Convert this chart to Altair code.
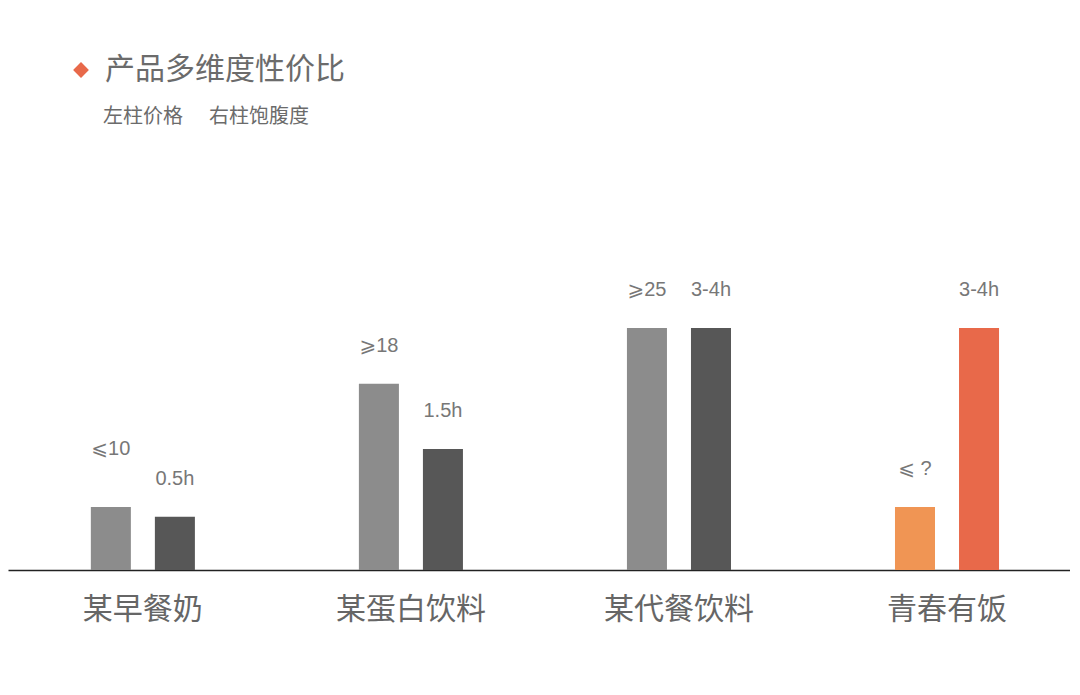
import altair as alt
import pandas as pd

products = ["某早餐奶", "某蛋白饮料", "某代餐饮料", "青春有饭"]
series = ["价格", "饱腹度"]
price_index = [2.6, 7.7, 10.0, 2.6]
satiety_index = [2.2, 5.0, 10.0, 10.0]
price_labels = ["⩽10", "⩾18", "⩾25", "⩽ ?"]
satiety_labels = ["0.5h", "1.5h", "3-4h", "3-4h"]
highlight = "青春有饭"

rows = []
for i, p in enumerate(products):
    rows.append({"product": p, "series": series[0], "value": price_index[i], "label": price_labels[i]})
    rows.append({"product": p, "series": series[1], "value": satiety_index[i], "label": satiety_labels[i]})
df = pd.DataFrame(rows)

CJK = "Noto Sans CJK SC"
NUM = "Liberation Sans, DejaVu Sans"

x_enc = alt.X(
    "product:N",
    sort=products,
    title=None,
    scale=alt.Scale(paddingInner=0.5, paddingOuter=0.231, align=0.548),
    axis=alt.Axis(
        labelAngle=0, labelFontSize=30, labelFont=CJK, labelColor="#666666",
        labelPadding=24, ticks=False, domainColor="#222222", domainWidth=1.5,
        grid=False, labelBaseline="top",
    ),
)
xo_enc = alt.XOffset("series:N", sort=series,
                     scale=alt.Scale(paddingInner=0.375, paddingOuter=0.234))
y_enc = alt.Y("value:Q", scale=alt.Scale(domain=[0, 12.4], nice=False), axis=None)

base = alt.Chart(df).transform_calculate(
    key="(datum.product == '" + highlight + "' ? 'hl_' : '') + datum.series"
)

bars = base.mark_bar().encode(
    x=x_enc, xOffset=xo_enc, y=y_enc,
    color=alt.Color(
        "key:N",
        scale=alt.Scale(
            domain=["价格", "饱腹度", "hl_价格", "hl_饱腹度"],
            range=["#8c8c8c", "#575757", "#f09554", "#e8694a"],
        ),
        legend=None,
    ),
)

labels = base.transform_filter("datum.label != '⩽10'").mark_text(
    dy=-38, baseline="middle", fontSize=20, font=NUM, color="#777777"
).encode(x=x_enc, xOffset=xo_enc, y=y_enc, text="label:N")

label_hi = base.transform_filter("datum.label == '⩽10'").mark_text(
    dy=-58, baseline="middle", fontSize=20, font=NUM, color="#777777"
).encode(x=x_enc, xOffset=xo_enc, y=y_enc, text="label:N")

one = alt.Chart(pd.DataFrame({"d": [0]}))
diamond = one.mark_point(shape="diamond", filled=True, size=250, color="#e8694a", opacity=1).encode(
    x=alt.value(73), y=alt.value(-200)
)
title = one.mark_text(
    text="产品多维度性价比", align="left", baseline="middle", fontSize=30, font=CJK, color="#6b6b6b"
).encode(x=alt.value(97), y=alt.value(-200))
sub1 = one.mark_text(
    text="左柱价格", align="left", baseline="middle", fontSize=20, font=CJK, color="#6b6b6b"
).encode(x=alt.value(95), y=alt.value(-153))
sub2 = one.mark_text(
    text="右柱饱腹度", align="left", baseline="middle", fontSize=20, font=CJK, color="#6b6b6b"
).encode(x=alt.value(201), y=alt.value(-153))

chart = alt.layer(bars, labels, label_hi, diamond, title, sub1, sub2).properties(
    width=1062, height=300,
    autosize=alt.AutoSizeParams(type="none"),
    padding={"left": 0, "top": 262, "right": 0, "bottom": 100},
).configure(background="white", view=alt.ViewConfig(stroke=None))

chart.save("out.html", embed_options={"renderer": "svg", "actions": False})
